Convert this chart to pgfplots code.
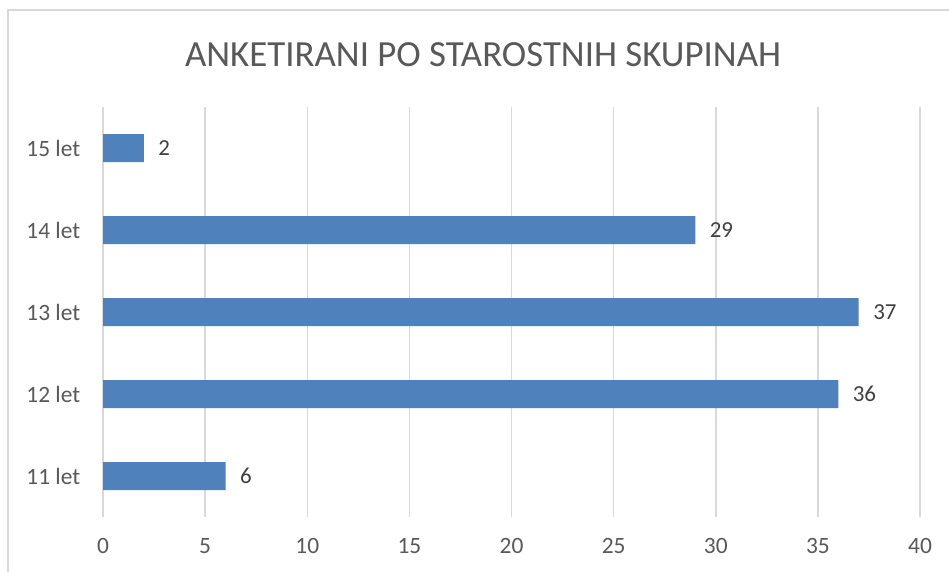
\documentclass[border=0pt]{standalone}
\usepackage{pgfplots}
\pgfplotsset{compat=1.18}
\usepackage{fontspec}
\setmainfont{Carlito}
\definecolor{barblue}{HTML}{4F81BD}
\definecolor{gridgray}{HTML}{D9D9D9}
\definecolor{textgray}{HTML}{595959}
\definecolor{valgray}{HTML}{404040}
\begin{document}
\begin{tikzpicture}
\useasboundingbox (0bp,0bp) rectangle (949bp,-572bp);
\fill[white] (0bp,0bp) rectangle (949bp,-572bp);
\draw[gridgray, line width=1.3bp] (8bp,-572bp) -- (8bp,-10bp) -- (949bp,-10bp);
\node[textgray, font=\fontsize{37}{44}\selectfont] at (483bp,-55bp) {ANKETIRANI PO STAROSTNIH SKUPINAH};
\begin{axis}[
 at={(103bp,-517bp)}, anchor=south west,
 scale only axis, width=817bp, height=410bp,
 xbar, bar width=28bp,
 xmin=0, xmax=40, ymin=-0.5, ymax=4.5,
 xtick={0,5,...,40}, ytick={0,...,4},
 yticklabels={11 let,12 let,13 let,14 let,15 let},
 axis line style={draw=none},
 tick style={draw=none},
 xmajorgrids, grid style={gridgray, line width=1.5bp},
 ticklabel style={textgray, font=\fontsize{23.5}{28}\selectfont},
 /pgf/number format/assume math mode=true,
 xticklabel style={yshift=-18bp},
 yticklabel style={xshift=-15bp},
 nodes near coords,
 nodes near coords style={anchor=west, xshift=11bp, valgray, font=\fontsize{23}{28}\selectfont},
]
\addplot[fill=barblue, draw=none] coordinates {(6,0) (36,1) (37,2) (29,3) (2,4)};
\end{axis}
\end{tikzpicture}
\end{document}
